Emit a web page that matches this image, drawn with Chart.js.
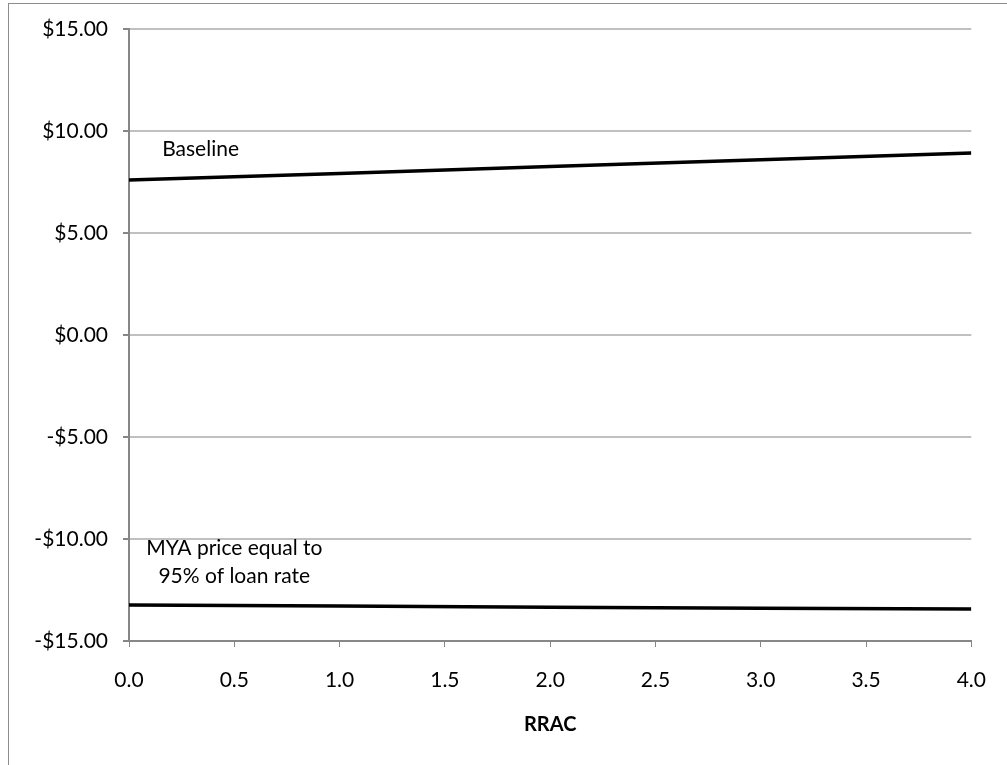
<!DOCTYPE html>
<html>
<head>
<meta charset="utf-8">
<script src="https://cdn.jsdelivr.net/npm/chart.js@4.4.1/dist/chart.umd.min.js"></script>
<style>
  html, body { margin: 0; padding: 0; background: #fff; }
  #wrap { position: relative; width: 1007px; height: 765px; overflow: hidden; }
  #c { position: absolute; left: 0; top: 0; }
  #frame { position: absolute; left: 8px; top: 3px; width: 1200px; height: 1000px;
           border: 1px solid #8c8c8c; box-sizing: border-box; pointer-events: none; }
</style>
</head>
<body>
<div id="wrap">
  <canvas id="c" width="1007" height="765"></canvas>
  <div id="frame"></div>
</div>
<script>
// ---- data ----
const rracValues = [0, 1, 2, 3, 4];
const baselineValues = [7.60, 7.92, 8.26, 8.59, 8.92];
const myaValues = [-13.24, -13.29, -13.34, -13.39, -13.43];
const xTickValues = [0, 0.5, 1, 1.5, 2, 2.5, 3, 3.5, 4];
const yTickValues = [-15, -10, -5, 0, 5, 10, 15];
const seriesNames = ["Baseline", "MYA price equal to 95% of loan rate"];
const labelLines = [["Baseline"], ["MYA price equal to", "95% of loan rate"]];
const labelAnchorX = [0.34, 0.5];
const labelAnchorY = [9.1, -10.45];
const xAxisTitle = "RRAC";

const FONT = "Lato, 'Open Sans', sans-serif";

const toPts = (xs, ys) => xs.map((x, i) => ({ x: x, y: ys[i] }));

const labelPlugin = {
  id: 'seriesLabels',
  afterDatasetsDraw(chart) {
    const ctx = chart.ctx;
    const xs = chart.scales.x, ys = chart.scales.y;
    ctx.save();
    ctx.fillStyle = '#000';
    ctx.font = '21px ' + FONT;
    ctx.textAlign = 'center';
    ctx.textBaseline = 'middle';
    labelLines.forEach((lines, i) => {
      const cx = xs.getPixelForValue(labelAnchorX[i]);
      const cy = ys.getPixelForValue(labelAnchorY[i]);
      lines.forEach((t, j) => ctx.fillText(t, cx, cy + j * 28));
    });
    ctx.restore();
  }
};

const whiteBg = {
  id: 'whiteBg',
  beforeDraw(chart) {
    const ctx = chart.ctx;
    ctx.save();
    ctx.fillStyle = '#fff';
    ctx.fillRect(0, 0, chart.width, chart.height);
    ctx.restore();
  }
};

new Chart(document.getElementById('c'), {
  type: 'line',
  data: {
    datasets: [
      { label: seriesNames[0], data: toPts(rracValues, baselineValues),
        borderColor: '#000', borderWidth: 3.5, pointRadius: 0, tension: 0, fill: false },
      { label: seriesNames[1], data: toPts(rracValues, myaValues),
        borderColor: '#000', borderWidth: 3.5, pointRadius: 0, tension: 0, fill: false }
    ]
  },
  options: {
    responsive: false,
    animation: false,
    layout: { padding: { left: 0, right: 33, top: 29, bottom: 0 } },
    plugins: { legend: { display: false }, tooltip: { enabled: false }, title: { display: false } },
    scales: {
      x: {
        type: 'linear', min: 0, max: 4,
        afterBuildTicks(scale) { scale.ticks = xTickValues.map(v => ({ value: v })); },
        afterFit(scale) { scale.height = 124; },
        grid: { drawOnChartArea: false, drawTicks: true, tickLength: 6, tickColor: '#878787', color: '#878787' },
        border: { display: true, color: '#878787', width: 2 },
        ticks: { color: '#000', font: { family: FONT, size: 21 }, padding: 21,
                 maxRotation: 0, callback: v => Number(v).toFixed(1) },
        title: { display: true, text: xAxisTitle, color: '#000',
                 font: { family: FONT, size: 20, weight: 'bold' }, padding: { top: 0, bottom: 28 } }
      },
      y: {
        type: 'linear', min: -15, max: 15,
        afterBuildTicks(scale) { scale.ticks = yTickValues.map(v => ({ value: v })); },
        afterFit(scale) { scale.width = 129; },
        grid: { color: '#c0c0c0', lineWidth: 2, tickLength: 6, tickColor: '#878787', drawTicks: true },
        border: { display: true, color: '#878787', width: 2 },
        ticks: { color: '#000', font: { family: FONT, size: 21 }, padding: 15,
                 callback: v => (v < 0 ? '-$' : '$') + Math.abs(v).toFixed(2) }
      }
    }
  },
  plugins: [whiteBg, labelPlugin]
});
</script>
</body>
</html>
